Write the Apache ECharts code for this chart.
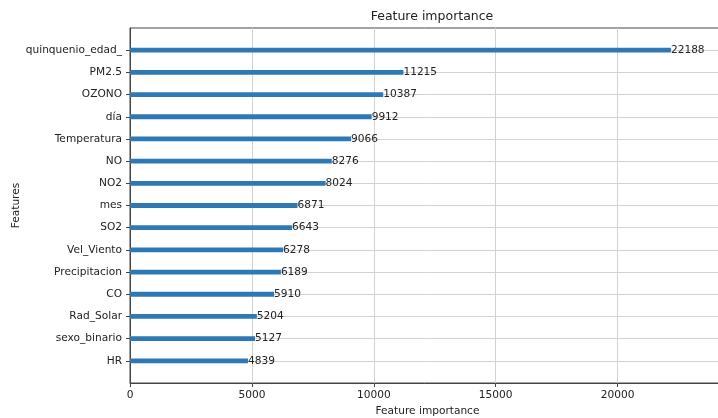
<!DOCTYPE html>
<html>
<head>
<meta charset="utf-8">
<script src="https://cdn.jsdelivr.net/npm/echarts@6/dist/echarts.min.js"></script>
<style>
  html, body { margin: 0; padding: 0; background: #fff; }
  #chart { width: 718px; height: 418px; }
</style>
</head>
<body>
<div id="chart"></div>
<script>
// Feature names, top to bottom, and their split-count importance
const features = ['quinquenio_edad_', 'PM2.5', 'OZONO', 'día', 'Temperatura', 'NO', 'NO2', 'mes',
  'SO2', 'Vel_Viento', 'Precipitacion', 'CO', 'Rad_Solar', 'sexo_binario', 'HR'];
const importance = [22188, 11215, 10387, 9912, 9066, 8276, 8024, 6871,
  6643, 6278, 6189, 5910, 5204, 5127, 4839];
const xTicks = [0, 5000, 10000, 15000, 20000];

// One empty slot above and below the features gives a full band of padding at each end
const yCats = [''].concat(features, ['']);
const values = ['-'].concat(importance, ['-']);
const xMax = Math.max.apply(null, importance) * 1.1;
const inner = (i) => i > 0 && i < yCats.length - 1;

const font = 'DejaVu Sans';
const chart = echarts.init(document.getElementById('chart'));
chart.setOption({
  animation: false,
  backgroundColor: '#ffffff',
  title: {
    text: 'Feature importance',
    left: 427, top: 5, textAlign: 'center',
    textStyle: { fontFamily: font, fontSize: 12.5, fontWeight: 'normal', color: '#222' }
  },
  // the plot frame runs a little past the right edge of the canvas
  grid: {
    left: 130, width: 595, top: 28, bottom: 35,
    containLabel: false, outerBoundsMode: 'none',
    show: true, borderColor: '#444', borderWidth: 1, backgroundColor: 'transparent'
  },
  xAxis: {
    type: 'value', min: 0, max: xMax, interval: 5000,
    name: 'Feature importance', nameLocation: 'middle', nameGap: 22,
    nameTextStyle: { fontFamily: font, fontSize: 10.6, color: '#222' },
    axisLine: { show: true, lineStyle: { color: '#444', width: 1 } },
    axisTick: { show: true, length: 4, lineStyle: { color: '#444' } },
    axisLabel: {
      margin: 7, fontFamily: font, fontSize: 10.6, color: '#222',
      formatter: (v) => xTicks.indexOf(v) >= 0 ? String(v) : ''
    },
    splitLine: { show: true, lineStyle: { color: '#d2d2d2', width: 1 } }
  },
  yAxis: {
    type: 'category', data: yCats, inverse: true, boundaryGap: false,
    name: 'Features', nameLocation: 'middle', nameGap: 108, nameRotate: 90,
    nameMoveOverlap: false,
    nameTextStyle: { fontFamily: font, fontSize: 10.6, color: '#222' },
    axisLine: { show: true, lineStyle: { color: '#444', width: 1 } },
    axisTick: { show: true, length: 4, interval: inner, lineStyle: { color: '#444' } },
    axisLabel: { margin: 8, interval: inner, fontFamily: font, fontSize: 10.6, color: '#222' },
    splitLine: { show: true, interval: inner, lineStyle: { color: '#d2d2d2', width: 1 } }
  },
  series: [{
    type: 'bar',
    data: values,
    barWidth: 4.8,
    itemStyle: { color: '#2c79b6' },
    label: {
      show: true, position: 'right', distance: 0,
      fontFamily: font, fontSize: 10.6, color: '#222',
      formatter: (p) => String(p.value)
    }
  }]
});
</script>
</body>
</html>
